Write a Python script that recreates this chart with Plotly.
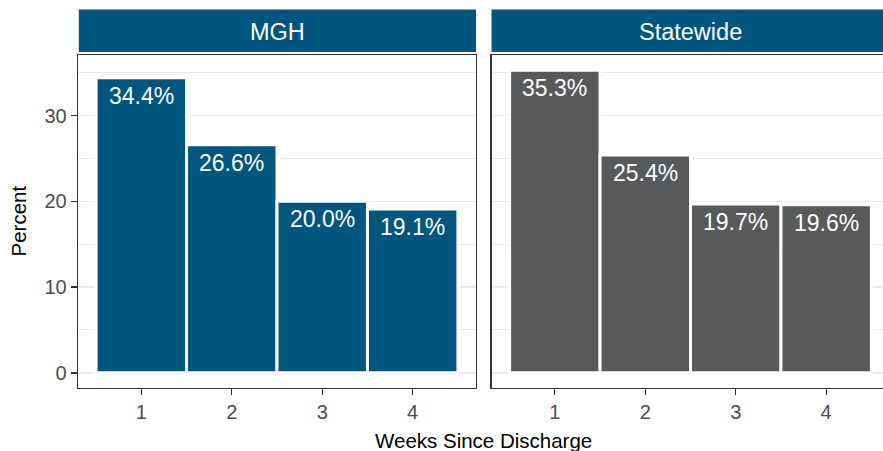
import plotly.graph_objects as go

weeks = [1, 2, 3, 4]
week_labels = ["1", "2", "3", "4"]
mgh_pct = [34.4, 26.6, 20.0, 19.1]
state_pct = [35.3, 25.4, 19.7, 19.6]
panels = ["MGH", "Statewide"]
y_ticks = [0, 10, 20, 30]

BLUE = "#00567F"
GRAY = "#58595B"
FONT = "Liberation Sans, Arial, sans-serif"

OFF = 0  # page body margin removed via post_script
W, H = 883 - OFF, 451 - OFF
PL, PT, PB = 78, 55, 388  # panel edges in reference pixels
ML, MT = PL - OFF, PT - OFF
MB = H - (PB - OFF)
plot_w = W - ML
plot_h = H - MT - MB
panel_px = 398
gap_px = 15.5
xr = [0.3, 4.7]
unit_px = panel_px / (xr[1] - xr[0])
d1 = [0, panel_px / plot_w]
d2_start = (panel_px + gap_px) / plot_w
x2_end = xr[0] + (plot_w - panel_px - gap_px) / unit_px
ymax = max(mgh_pct + state_pct)
yr = [-0.05 * ymax, 1.05 * ymax]


def ref_y(py):
    return (PB - py) / plot_h


fig = go.Figure()
fig.add_trace(go.Bar(x=weeks, y=mgh_pct, width=1, marker=dict(color=BLUE, line=dict(color="white", width=3)),
                     xaxis="x", yaxis="y", showlegend=False, hoverinfo="skip"))
fig.add_trace(go.Bar(x=weeks, y=state_pct, width=1, marker=dict(color=GRAY, line=dict(color="white", width=3)),
                     xaxis="x2", yaxis="y2", showlegend=False, hoverinfo="skip"))

ann = []
for xa, ya, vals in [("x", "y", mgh_pct), ("x2", "y2", state_pct)]:
    for w, v in zip(weeks, vals):
        ann.append(dict(x=w, y=v, xref=xa, yref=ya, text=f"{v:.1f}%", showarrow=False,
                        yanchor="middle", yshift=-18, font=dict(family=FONT, size=23, color="white")))

shapes = []
strip_y0 = ref_y(52)
strip_y1 = ref_y(9.5)
for xa, name in [("x", panels[0]), ("x2", panels[1])]:
    shapes.append(dict(type="rect", xref=f"{xa} domain", yref="y domain",
                       x0=0.002 if xa == "x" else 0, x1=1 if xa == "x" else 1.05,
                       y0=strip_y0, y1=strip_y1, fillcolor=BLUE, line=dict(width=0), layer="above"))
    ann.append(dict(x=(xr[0] + xr[1]) / 2, xref=xa, y=(strip_y0 + strip_y1) / 2, yref="y domain",
                    text=name, showarrow=False, yanchor="middle", yshift=-1,
                    font=dict(family=FONT, size=23.5, color="white")))

full_center = (panel_px + gap_px + panel_px) / 2 / plot_w
ann.append(dict(x=full_center, xref="paper", y=ref_y(440), yref="paper", text="Weeks Since Discharge",
                showarrow=False, yanchor="middle", font=dict(family=FONT, size=20.5, color="black")))
ann.append(dict(x=(18 - PL) / plot_w, xref="paper", y=ref_y(221.5), yref="paper", text="Percent", textangle=-90,
                showarrow=False, xanchor="center", yanchor="middle",
                font=dict(family=FONT, size=20.5, color="black")))

grid = dict(showgrid=True, gridcolor="#EBEBEB", gridwidth=1.5,
            minor=dict(dtick=5, tick0=0, showgrid=True, gridcolor="#EBEBEB", gridwidth=1.0, ticklen=0))
xcommon = dict(range=xr, tickmode="array", tickvals=weeks, ticktext=week_labels, showgrid=False, zeroline=False,
               ticks="outside", ticklen=6, tickwidth=1.3, tickcolor="#333333", automargin=False,
               tickfont=dict(family=FONT, size=20, color="#4D4D4D"), showline=True, linecolor="#333333",
               linewidth=1.3, mirror=True)
fig.update_layout(
    width=W, height=H, margin=dict(l=ML, r=0, t=MT, b=MB, autoexpand=False),
    paper_bgcolor="white", plot_bgcolor="white", bargap=0,
    xaxis=dict(domain=d1, anchor="y", **xcommon),
    xaxis2=dict(domain=[d2_start, 1], anchor="y2", **{**xcommon, "range": [xr[0], x2_end]}),
    yaxis=dict(domain=[0, 1], anchor="x", range=yr, tickmode="array", tickvals=y_ticks, zeroline=False,
               ticks="outside", ticklen=6, tickwidth=1.3, tickcolor="#333333", automargin=False,
               tickfont=dict(family=FONT, size=20, color="#4D4D4D"),
               showline=True, linecolor="#333333", linewidth=1.3, mirror=True, **grid),
    yaxis2=dict(domain=[0, 1], anchor="x2", matches="y", range=yr, tickmode="array", tickvals=y_ticks,
                showticklabels=False, ticks="", zeroline=False, automargin=False,
                showline=True, linecolor="#333333", linewidth=1.3, mirror=False, **grid),
    shapes=shapes, annotations=ann,
)
fig.write_html(
    "out.html",
    config={"displayModeBar": False, "staticPlot": True},
    post_script="document.body.style.margin='0';document.documentElement.style.overflow='hidden';"
                "document.body.style.overflow='hidden';",
)
